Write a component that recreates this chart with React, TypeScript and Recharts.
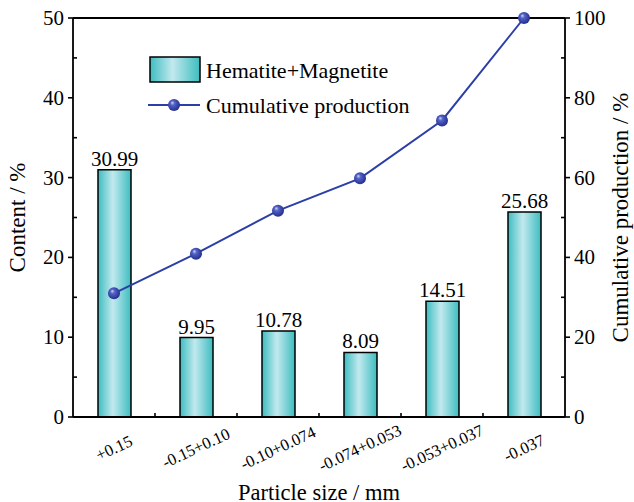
import { Bar, ComposedChart, Customized, LabelList, Line, ReferenceLine, XAxis, YAxis } from 'recharts';

const categories = ['+0.15', '-0.15+0.10', '-0.10+0.074', '-0.074+0.053', '-0.053+0.037', '-0.037'];
const contentValues = [30.99, 9.95, 10.78, 8.09, 14.51, 25.68];
const cumulativeValues = [30.99, 40.94, 51.72, 59.81, 74.32, 100];
const leftTicks = [0, 5, 10, 15, 20, 25, 30, 35, 40, 45, 50];
const rightTicks = [0, 10, 20, 30, 40, 50, 60, 70, 80, 90, 100];

const data = categories.map((name, i) => ({
  name,
  content: contentValues[i],
  cumulative: cumulativeValues[i],
}));

const FONT = '"Liberation Serif", "Times New Roman", serif';

const LeftTick = ({ x, y, payload }: any) => {
  const major = payload.value % 10 === 0;
  return (
    <g>
      {major ? (
        <line x1={x - 5} x2={x} y1={y} y2={y} stroke="#000" strokeWidth={1.6} />
      ) : (
        <line x1={x} x2={x + 4} y1={y} y2={y} stroke="#000" strokeWidth={1.6} />
      )}
      {major && (
        <text x={x - 9} y={y} textAnchor="end" dominantBaseline="central" fontSize={21} fontFamily={FONT} fill="#000">
          {payload.value}
        </text>
      )}
    </g>
  );
};

const RightTick = ({ x, y, payload }: any) => {
  const major = payload.value % 20 === 0;
  return (
    <g>
      {major ? (
        <line x1={x} x2={x + 5} y1={y} y2={y} stroke="#000" strokeWidth={1.6} />
      ) : (
        <line x1={x - 4} x2={x} y1={y} y2={y} stroke="#000" strokeWidth={1.6} />
      )}
      {major && (
        <text x={x + 9} y={y} textAnchor="start" dominantBaseline="central" fontSize={21} fontFamily={FONT} fill="#000">
          {payload.value}
        </text>
      )}
    </g>
  );
};

const BottomTick = ({ x, y, payload, index }: any) => {
  const off = payload.offset ?? 41;
  return (
    <g>
      {index < categories.length - 1 && (
        <line x1={x + off} x2={x + off} y1={y} y2={y - 4} stroke="#000" strokeWidth={1.6} />
      )}
      <text
        x={x}
        y={y + 31}
        textAnchor="middle"
        dominantBaseline="central"
        fontSize={16.5}
        fontFamily={FONT}
        fill="#000"
        transform={`rotate(-25, ${x}, ${y + 31})`}
      >
        {payload.value}
      </text>
    </g>
  );
};

const Dot = ({ cx, cy, index }: any) => (
  <circle key={`dot-${index}`} cx={cx} cy={cy} r={6} fill="url(#dotGrad)" />
);

const LegendBox = () => (
  <g fontFamily={FONT} fontSize={22}>
    <rect x={150} y={57} width={50} height={25} fill="url(#barGrad)" stroke="#000" strokeWidth={1.5} />
    <text x={206} y={70} dominantBaseline="central" fill="#000">Hematite+Magnetite</text>
    <line x1={148} x2={200} y1={105} y2={105} stroke="#2b3fa6" strokeWidth={2} />
    <circle cx={174} cy={105} r={6} fill="url(#dotGrad)" />
    <text x={206} y={105} dominantBaseline="central" fill="#000">Cumulative production</text>
  </g>
);

export default function App() {
  return (
    <div style={{ position: 'absolute', left: 0, top: 0, background: '#fff' }}>
      <ComposedChart
        width={634}
        height={502}
        data={data}
        margin={{ top: 18, right: 0, bottom: 0, left: 0 }}
        style={{ fontFamily: FONT }}
      >
        <defs>
          <linearGradient id="barGrad" x1="0" y1="0" x2="1" y2="0">
            <stop offset="0%" stopColor="#3dbdbf" />
            <stop offset="45%" stopColor="#c2e9ef" />
            <stop offset="100%" stopColor="#3dbdbf" />
          </linearGradient>
          <radialGradient id="dotGrad" cx="0.45" cy="0.45" r="0.6" fx="0.35" fy="0.3">
            <stop offset="0%" stopColor="#d0d4f8" />
            <stop offset="30%" stopColor="#5563c9" />
            <stop offset="100%" stopColor="#1e2a85" />
          </radialGradient>
        </defs>
        <XAxis
          dataKey="name"
          height={85}
          tickSize={0}
          tickMargin={0}
          interval={0}
          axisLine={{ stroke: '#000', strokeWidth: 1.8 }}
          tickLine={false}
          tick={<BottomTick />}
          label={{ value: 'Particle size / mm', position: 'insideBottom', offset: 2, style: { fontSize: 22.5, fill: '#000', fontFamily: FONT } }}
        />
        <YAxis
          yAxisId="left"
          width={73}
          domain={[0, 50]}
          ticks={leftTicks}
          interval={0}
          tickSize={0}
          tickMargin={0}
          tickLine={false}
          axisLine={{ stroke: '#000', strokeWidth: 1.8 }}
          tick={<LeftTick />}
          label={{ value: 'Content / %', angle: -90, position: 'insideLeft', offset: 17, style: { textAnchor: 'middle', fontSize: 23, fill: '#000', fontFamily: FONT } }}
        />
        <YAxis
          yAxisId="right"
          orientation="right"
          width={69}
          domain={[0, 100]}
          ticks={rightTicks}
          interval={0}
          tickSize={0}
          tickMargin={0}
          tickLine={false}
          axisLine={{ stroke: '#000', strokeWidth: 1.8 }}
          tick={<RightTick />}
          label={{ value: 'Cumulative production / %', angle: -90, position: 'insideRight', offset: 14, style: { textAnchor: 'middle', fontSize: 23, fill: '#000', fontFamily: FONT } }}
        />
        <ReferenceLine yAxisId="left" y={50} stroke="#000" strokeWidth={1.8} />
        <Bar
          yAxisId="left"
          dataKey="content"
          barSize={33}
          fill="url(#barGrad)"
          stroke="#000"
          strokeWidth={1.5}
          isAnimationActive={false}
        >
          <LabelList
            dataKey="content"
            position="top"
            offset={4}
            formatter={(v: any) => Number(v).toFixed(2)}
            style={{ fontSize: 21, fill: '#000', fontFamily: FONT }}
          />
        </Bar>
        <Line
          yAxisId="right"
          dataKey="cumulative"
          stroke="#2b3fa6"
          strokeWidth={2}
          dot={<Dot />}
          activeDot={false}
          isAnimationActive={false}
        />
        <Customized component={LegendBox} />
      </ComposedChart>
    </div>
  );
}
